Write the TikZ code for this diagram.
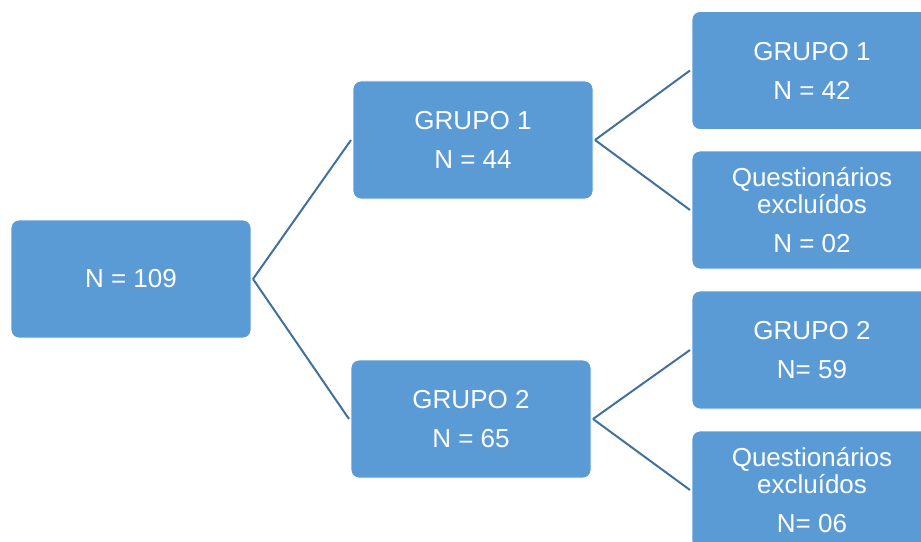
\documentclass[tikz,border=0pt]{standalone}
\usepackage{fontspec}
\setmainfont{Liberation Sans}
\usepackage{tikz}
\definecolor{boxblue}{HTML}{5B9BD5}
\definecolor{lineblue}{HTML}{41719C}

\begin{document}
\begin{tikzpicture}[x=0.75pt,y=-0.75pt]
\tikzstyle{every node}+=[inner sep=0pt]
\tikzstyle{grupo}=[draw=white, line width=0.6pt, fill=boxblue, rounded corners=6pt, minimum width=180pt, minimum height=88.5pt, text=white, align=center, font=\fontsize{19.5}{20.25}\selectfont, outer sep=1.5pt]
\tikzstyle{ramo}=[draw=lineblue, line width=1.5pt]

\useasboundingbox (0,0) rectangle (921,542);
\clip (0,0) rectangle (921,542);

\node [grupo] (n) at (131,279) {N = 109};
\node [grupo] (g1) at (473,140) {GRUPO 1\\[9pt]N = 44};
\node [grupo] (g2) at (471,419) {GRUPO 2\\[9pt]N = 65};
\node [grupo] (g1a) at (812,70.5) {GRUPO 1\\[9pt]N = 42};
\node [grupo] (g1b) at (812,210) {Questionários\\excluídos\\[8.5pt]N = 02};
\node [grupo] (g2a) at (812,350) {GRUPO 2\\[9pt]N= 59};
\node [grupo] (g2b) at (812,490) {Questionários\\excluídos\\[8.5pt]N= 06};

\draw [ramo] (n.east) -- (g1.west);
\draw [ramo] (n.east) -- (g2.west);
\draw [ramo] (g1.east) -- (g1a.west);
\draw [ramo] (g1.east) -- (g1b.west);
\draw [ramo] (g2.east) -- (g2a.west);
\draw [ramo] (g2.east) -- (g2b.west);
\end{tikzpicture}
\end{document}
